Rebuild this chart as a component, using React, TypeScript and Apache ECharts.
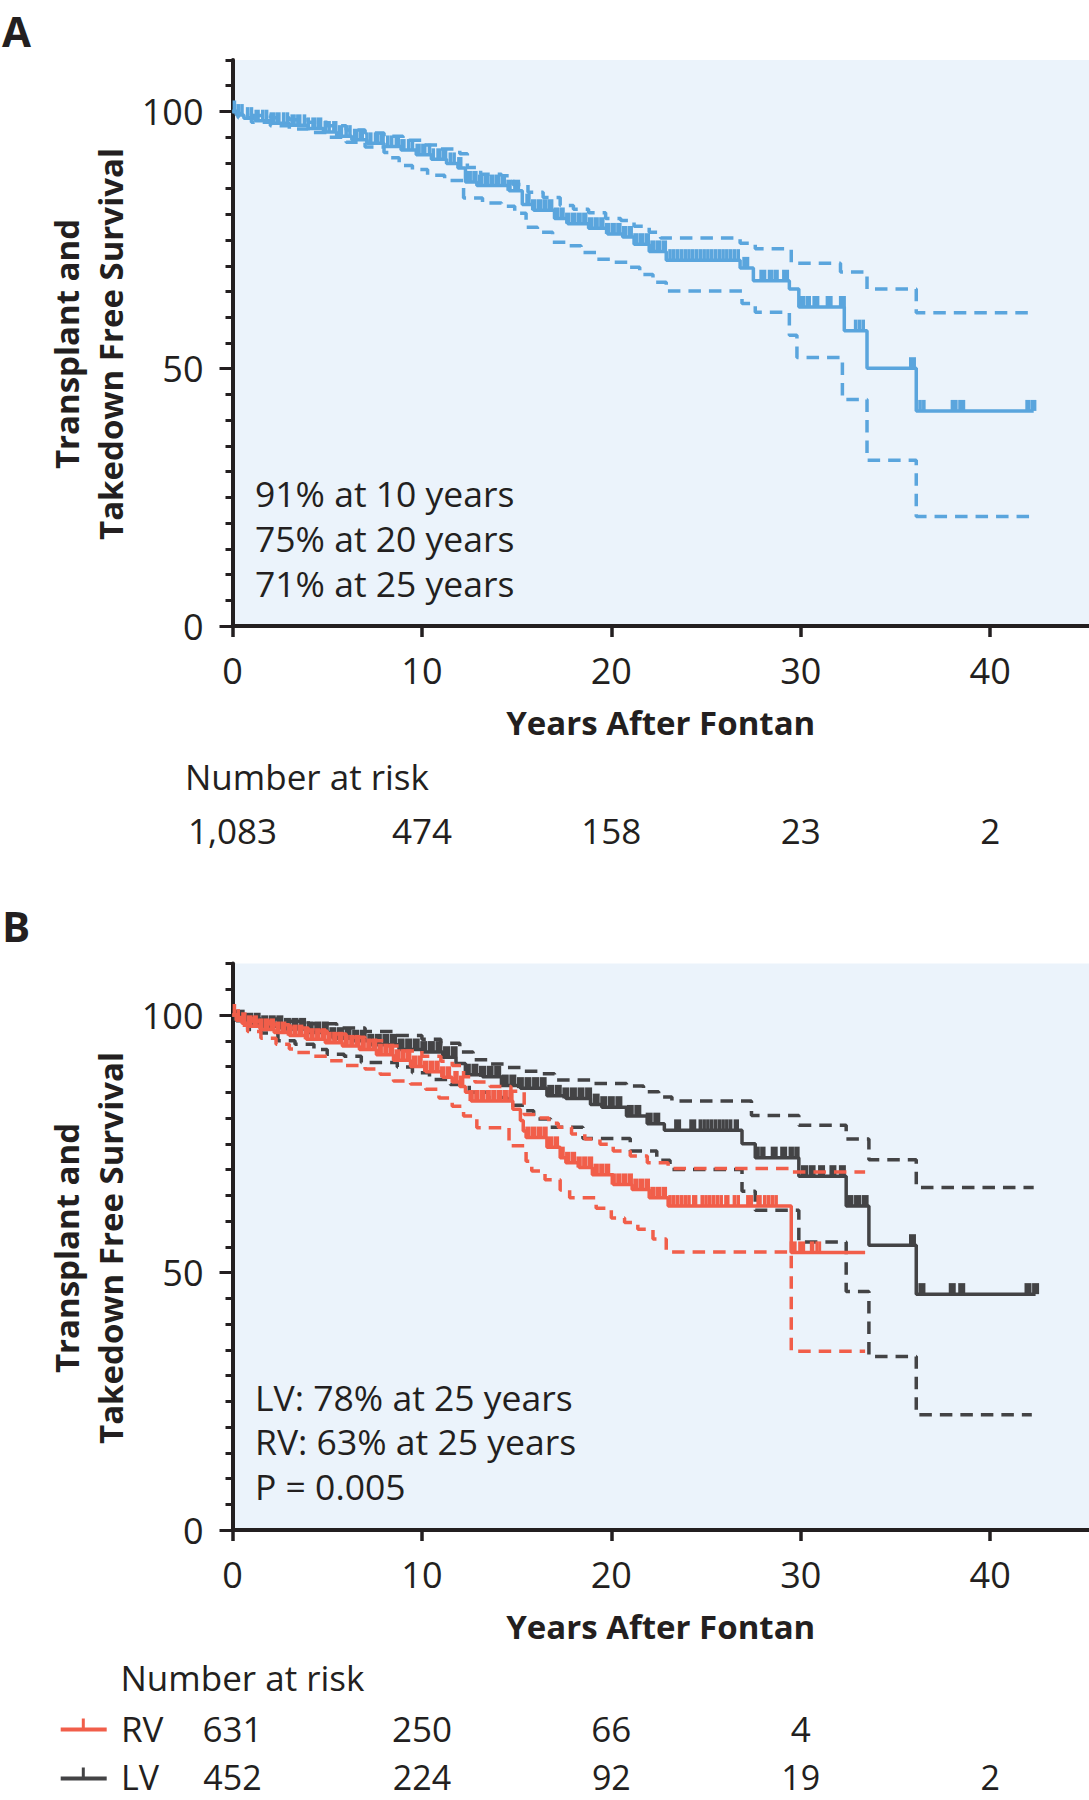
import React, { useEffect, useRef } from 'react';
import * as echarts from 'echarts';

const FONT = "'Open Sans', 'Noto Sans', sans-serif";
const INK = '#231F20';
const BG = '#EBF3FB';
const BLUE = '#5AA5DD';
const RED = '#F15E4A';
const GRAY = '#434345';

// ---------- axes ----------
const xTickYears = [0, 10, 20, 30, 40];
const yTickValues = [0, 50, 100];
const X_MAX = 45.22;
const Y_MAX = 110;

// ---------- Panel A : all patients ----------
const allMain = [
  [0, 100], [0.2, 99.3], [0.6, 98.7], [1.2, 98.2], [2.0, 97.7], [3.0, 97.3], [4.0, 96.7],
  [4.8, 96.0], [5.5, 95.2], [6.3, 94.5], [7.1, 93.8], [8.0, 93.2], [8.9, 92.5], [9.7, 91.6],
  [10.5, 90.7], [11.3, 89.9], [11.9, 89.0], [12.3, 86.3], [12.9, 85.6], [14.6, 84.6],
  [15.3, 81.9], [15.9, 80.8], [17.0, 79.2], [17.7, 78.2], [18.8, 77.3], [19.8, 76.2],
  [20.6, 75.6], [21.2, 74.2], [22.0, 72.8], [22.9, 71.1], [26.8, 69.6], [27.5, 67.1],
  [29.4, 65.5], [29.9, 62.0], [32.3, 57.4], [33.5, 50.1], [36.1, 41.8], [42.3, 41.8],
];
const allUpper = [
  [0, 100], [0.3, 99.6], [1, 99.2], [2, 98.8], [3, 98.4], [4, 97.9], [5, 97.2], [6, 96.4],
  [7, 95.8], [8, 95.2], [9, 94.4], [10, 93.5], [11, 92.7], [12, 91.8], [12.4, 89.1],
  [13.1, 87.8], [14.2, 87.5], [14.8, 85.8], [15.6, 84.3], [16.4, 83.3], [17.3, 81.7],
  [18.0, 81.0], [18.8, 80.3], [19.7, 79.2], [20.5, 78.8], [21.2, 77.7], [22.0, 76.5],
  [22.6, 75.4], [26.8, 74.4], [27.6, 73.3], [29.5, 70.5], [32.1, 68.8], [33.5, 65.5],
  [36.1, 60.9], [42.3, 60.9],
];
const allLower = [
  [0, 100], [0.3, 98.8], [1, 97.9], [2, 97.2], [3, 96.6], [4, 95.9], [5, 95.0], [6, 94.0],
  [7, 93.1], [8, 92.0], [8.3, 91.0], [8.8, 89.5], [9.5, 88.7], [10.3, 87.6], [11.2, 86.6],
  [12.2, 83.2], [13.2, 82.2], [14.2, 81.6], [14.9, 80.2], [15.5, 77.5], [16.1, 76.5],
  [16.9, 74.6], [17.6, 73.9], [18.4, 72.6], [19.2, 71.3], [20.1, 70.7], [20.9, 69.7],
  [21.5, 68.3], [22.2, 66.8], [22.9, 65.1], [26.9, 62.7], [27.6, 61.0], [29.4, 56.5],
  [29.8, 52.2], [32.2, 44.0], [33.5, 32.2], [36.1, 21.3], [42.3, 21.3],
];
const allCensor = [
  0.1, 0.3, 0.5, 0.8, 1.0, 1.3, 1.6, 1.8, 2.1, 2.4, 2.7, 2.9, 3.2, 3.5, 3.8, 4.0, 4.3, 4.6,
  4.9, 5.1, 5.4, 5.7, 6.0, 6.2, 6.5, 6.8, 7.1, 7.3, 7.6, 7.9, 8.2, 8.4, 8.7, 9.0, 9.3, 9.5,
  9.8, 10.1, 10.4, 10.6, 10.9, 11.2, 11.5, 11.7, 12.0, 12.5, 12.8, 13.1, 13.4, 13.7, 14.0,
  14.3, 14.6, 15.0, 15.6, 15.9, 16.2, 16.5, 16.8, 17.1, 17.4, 17.7, 18.0, 18.3, 18.6, 18.9,
  19.2, 19.5, 19.8, 20.1, 20.4, 20.7, 21.0, 21.3, 21.6, 21.9, 22.2, 22.5, 22.8, 23.1, 23.3,
  23.5, 23.7, 23.9, 24.1, 24.3, 24.5, 24.7, 24.9, 25.1, 25.3, 25.5, 25.7, 25.9, 26.1, 26.3,
  26.5, 26.7, 27.1, 28.0, 28.4, 28.7, 29.2, 30.1, 30.4, 30.8, 31.5, 32.2, 32.9, 33.1, 33.3,
  35.9, 36.3, 36.5, 38.1, 38.5, 42.0, 42.3,
];

// ---------- Panel B : RV vs LV ----------
const rvMain = [
  [0, 100], [0.2, 99.0], [0.5, 98.4], [0.9, 97.8], [1.5, 97.2], [2.2, 96.6], [3.0, 96.0],
  [3.9, 95.3], [4.9, 94.6], [5.8, 94.0], [6.7, 93.3], [7.6, 92.3], [8.5, 91.2], [9.4, 90.0],
  [10.2, 89.0], [11.1, 87.9], [11.6, 87.0], [12.0, 86.1], [12.3, 85.0], [12.6, 83.3],
  [14.8, 81.7], [15.2, 79.5], [15.35, 77.5], [15.5, 76.2], [16.6, 74.3], [17.3, 72.3],
  [17.6, 71.3], [18.3, 70.4], [19.0, 69.0], [20.1, 67.1], [21.1, 66.1], [22.0, 64.5],
  [23.0, 62.9], [29.5, 53.9], [33.4, 53.9],
];
const rvUpper = [
  [0, 100], [0.3, 99.5], [1, 98.8], [2, 98.1], [3, 97.5], [4, 96.9], [5, 96.3], [6, 95.7],
  [7, 95.0], [8, 94.0], [9, 93.0], [10, 92.0], [11, 91.0], [11.6, 90.2], [12.2, 88.0],
  [12.8, 87.0], [13.6, 86.1], [14.7, 85.2], [15.4, 80.7], [16.0, 80.0], [16.7, 79.0],
  [17.2, 78.2], [17.9, 76.9], [18.6, 75.9], [19.4, 74.9], [20.1, 73.6], [21.0, 72.6],
  [21.9, 71.3], [23.0, 70.2], [29.5, 69.5], [33.4, 69.5],
];
const rvLower = [
  [0, 100], [0.3, 98.0], [0.8, 96.8], [1.5, 95.5], [2.3, 94.3], [3.0, 93.4], [3.4, 92.7],
  [4.2, 92.0], [5.1, 91.1], [5.9, 90.2], [7.0, 89.5], [7.8, 88.5], [8.5, 87.2], [9.4, 86.6],
  [10.2, 85.6], [10.9, 83.9], [11.6, 82.3], [12.2, 80.4], [12.9, 78.1], [14.6, 74.6],
  [15.5, 71.6], [15.8, 69.7], [16.5, 68.0], [17.3, 66.0], [17.8, 64.5], [19.2, 62.5],
  [20.0, 60.6], [20.7, 59.7], [21.4, 58.4], [22.2, 56.5], [22.9, 54.0], [29.5, 34.7],
  [33.4, 34.7],
];
const rvCensor = [
  0.1, 0.3, 0.6, 0.9, 1.2, 1.5, 1.8, 2.1, 2.4, 2.7, 3.0, 3.3, 3.6, 3.9, 4.2, 4.5, 4.8, 5.1,
  5.4, 5.7, 6.0, 6.3, 6.6, 6.9, 7.2, 7.5, 7.8, 8.1, 8.4, 8.7, 9.0, 9.3, 9.6, 9.9, 10.2, 10.5,
  10.8, 11.1, 11.4, 11.8, 12.1, 12.6, 12.9, 13.2, 13.5, 13.8, 14.1, 14.4, 14.7, 15.6, 15.9,
  16.2, 16.5, 16.8, 17.1, 17.4, 17.7, 18.0, 18.3, 18.6, 18.9, 19.2, 19.5, 19.8, 20.1, 20.4,
  20.7, 21.0, 21.3, 21.6, 21.9, 22.2, 22.5, 22.8, 23.1, 23.3, 23.5, 23.7, 23.9, 24.1, 24.4,
  24.8, 25.0, 25.2, 25.4, 25.6, 25.8, 26.1, 26.5, 26.7, 27.3, 27.8, 28.1, 28.3, 28.5, 28.7,
  29.6, 30.05, 30.6, 30.85, 31.0,
];
const lvMain = [
  [0, 100], [0.2, 98.9], [0.6, 98.3], [1.4, 97.8], [2.6, 97.3], [3.9, 96.6], [5.3, 95.5],
  [6.3, 95.0], [7.2, 94.2], [8.8, 93.3], [10.0, 92.8], [11.1, 91.8], [11.8, 90.6],
  [12.3, 88.4], [13.2, 88.0], [14.2, 86.3], [15.2, 85.8], [16.6, 84.3], [17.6, 83.8],
  [18.9, 82.6], [19.5, 82.1], [20.8, 80.4], [21.9, 78.9], [22.8, 77.6], [26.9, 75.0],
  [27.6, 72.3], [29.9, 68.7], [32.4, 62.9], [33.6, 55.3], [36.1, 45.8], [42.4, 45.8],
];
const lvUpper = [
  [0, 100], [0.3, 99.6], [1, 99.2], [2.5, 98.8], [4, 98.3], [5.5, 97.5], [7, 96.8],
  [8.5, 96.0], [10, 95.3], [11, 94.5], [12.0, 92.8], [12.7, 91.3], [13.6, 90.5],
  [14.4, 89.8], [15.4, 89.1], [16.2, 88.6], [17.0, 87.4], [18.9, 86.7], [20.8, 86.2],
  [21.7, 85.1], [22.5, 84.1], [23.2, 83.3], [27.4, 80.5], [29.9, 78.6], [32.4, 75.9],
  [33.6, 71.9], [36.1, 66.5], [42.3, 66.5],
];
const lvLower = [
  [0, 100], [0.3, 98.3], [0.8, 97.2], [1.5, 96.5], [2.4, 95.0], [3.3, 94.3], [4.3, 93.3],
  [5.0, 92.4], [5.9, 92.0], [6.8, 90.8], [8.7, 89.9], [9.5, 88.8], [10.4, 87.5],
  [11.5, 86.5], [12.5, 85.0], [13.5, 84.0], [14.5, 82.5], [15.4, 81.4], [15.9, 79.8],
  [16.8, 78.2], [18.5, 76.0], [21.0, 73.6], [22.4, 71.8], [23.1, 70.0], [26.9, 65.8],
  [27.6, 62.1], [29.9, 55.9], [32.4, 46.3], [33.6, 33.7], [36.1, 22.4], [42.2, 22.4],
];
const lvCensor = [
  0.2, 0.5, 0.9, 1.3, 1.7, 2.1, 2.5, 2.9, 3.3, 3.7, 4.1, 4.5, 4.9, 5.3, 5.7, 6.1, 6.5, 6.9,
  7.3, 7.7, 8.1, 8.5, 8.9, 9.3, 9.7, 10.1, 10.5, 10.9, 11.3, 11.7, 12.4, 12.8, 13.2, 13.6,
  14.0, 14.4, 14.8, 15.2, 15.6, 16.0, 16.4, 16.8, 17.2, 17.6, 18.0, 18.4, 18.8, 19.2, 19.6,
  20.0, 20.4, 21.0, 21.4, 22.0, 22.4, 23.5, 24.3, 24.7, 24.9, 25.1, 25.3, 25.5, 25.7, 25.9,
  26.1, 26.3, 26.6, 27.7, 28.0, 28.6, 29.1, 29.5, 29.8, 30.2, 30.6, 31.1, 31.7, 32.2, 32.6,
  33.0, 33.4, 35.9, 36.4, 38.0, 38.5, 42.0, 42.4,
];

// ---------- numbers at risk ----------
const riskYearsAll = [0, 10, 20, 30, 40];
const riskAll = [1083, 474, 158, 23, 2];
const riskYearsRV = [0, 10, 20, 30];
const riskRV = [631, 250, 66, 4];
const riskYearsLV = [0, 10, 20, 30, 40];
const riskLV = [452, 224, 92, 19, 2];

// ---------- texts ----------
const annotationA = ['91% at 10 years', '75% at 20 years', '71% at 25 years'];
const annotationB = ['LV: 78% at 25 years', 'RV: 63% at 25 years', 'P = 0.005'];
const yTitle = ['Transplant and', 'Takedown Free Survival'];
const xTitle = 'Years After Fontan';

const LEFT = 232.5;
const PX_PER_YEAR = (1089 - LEFT) / X_MAX;

function valueAt(curve: number[][], t: number): number {
  let v = curve[0][1];
  for (let i = 0; i < curve.length; i++) {
    if (curve[i][0] <= t) v = curve[i][1];
    else break;
  }
  return v;
}

function kmLine(curve: number[][], color: string, dashed: boolean, axis: number, z: number) {
  return {
    type: 'line',
    data: curve,
    step: 'end',
    xAxisIndex: axis,
    yAxisIndex: axis * 2,
    symbol: 'none',
    showSymbol: false,
    silent: true,
    clip: false,
    z,
    lineStyle: { color, width: 3.5, type: dashed ? [12.5, 8] : 'solid', cap: 'butt', opacity: 1 },
    itemStyle: { color },
  };
}

function censorMarks(curve: number[][], times: number[], color: string, axis: number, z: number) {
  return {
    type: 'scatter',
    data: times.map((t, i) => {
      const prev = i > 0 ? t - times[i - 1] : 99;
      const next = i < times.length - 1 ? times[i + 1] - t : 99;
      const gapPx = Math.min(prev, next) * PX_PER_YEAR;
      const w = Math.max(3, Math.min(7, gapPx * 0.95));
      return { value: [t, valueAt(curve, t)], symbolSize: [w, 11] };
    }),
    xAxisIndex: axis,
    yAxisIndex: axis * 2,
    symbol: 'rect',
    symbolOffset: [0, -5.5],
    silent: true,
    clip: false,
    z,
    itemStyle: { color, opacity: 1 },
  };
}

function riskRow(years: number[], counts: number[], rowValue: number, xi: number, yi: number, size: number) {
  return {
    type: 'scatter',
    data: years.map((y, i) => [y, rowValue, counts[i]]),
    xAxisIndex: xi,
    yAxisIndex: yi,
    symbolSize: 1,
    silent: true,
    clip: false,
    itemStyle: { color: 'transparent', opacity: 1 },
    label: {
      show: true,
      position: 'inside',
      formatter: (p: any) => Number(p.value[2]).toLocaleString('en-US'),
      fontFamily: FONT,
      fontSize: size,
      color: INK,
      opacity: 1,
      lineHeight: 30,
      textBorderWidth: 0,
    },
  };
}

function plotAxes(gridIndex: number) {
  const x = {
    type: 'value',
    gridIndex,
    position: 'bottom',
    min: 0,
    max: X_MAX,
    interval: 10,
    axisLine: { show: true, onZero: false, lineStyle: { color: INK, width: 4 } },
    axisTick: { show: true, length: 11, customValues: xTickYears, lineStyle: { color: INK, width: 3.5 } },
    axisLabel: {
      show: true,
      customValues: xTickYears,
      margin: 26,
      fontSize: 36,
      fontFamily: FONT,
      color: INK,
      formatter: (v: number) => (v % 10 === 0 ? String(v) : ''),
    },
    splitLine: { show: false },
  };
  const yMinor = {
    type: 'value',
    gridIndex,
    position: 'left',
    min: 0,
    max: Y_MAX,
    interval: 5,
    axisLine: { show: true, onZero: false, lineStyle: { color: INK, width: 4 } },
    axisTick: { show: true, length: 7, lineStyle: { color: INK, width: 3 } },
    axisLabel: { show: false },
    splitLine: { show: false },
  };
  const yMajor = {
    type: 'value',
    gridIndex,
    position: 'left',
    offset: 0,
    min: 0,
    max: Y_MAX,
    interval: 50,
    axisLine: { show: false, onZero: false },
    axisTick: { show: true, length: 13, customValues: yTickValues, lineStyle: { color: INK, width: 3 } },
    axisLabel: {
      show: true,
      customValues: yTickValues,
      margin: 29,
      fontSize: 36,
      fontFamily: FONT,
      color: INK,
      formatter: (v: number) => (v % 50 === 0 && v <= 100 ? String(v) : ''),
    },
    splitLine: { show: false },
  };
  return { x, yMinor, yMajor };
}

function hiddenAxes(gridIndex: number) {
  return {
    x: { type: 'value', gridIndex, min: 0, max: X_MAX, show: false },
    y: { type: 'value', gridIndex, min: 0, max: 1, show: false },
  };
}

function txt(text: string, x: number, y: number, size: number, opts: any = {}) {
  return {
    type: 'text',
    x,
    y,
    rotation: opts.rotation || 0,
    silent: true,
    style: {
      text,
      fontSize: size,
      fontFamily: FONT,
      fontWeight: opts.bold ? 'bold' : 'normal',
      fill: INK,
      align: opts.align || 'left',
      verticalAlign: 'middle',
      lineHeight: opts.lineHeight || undefined,
    },
  };
}

export default function App() {
  const ref = useRef<HTMLDivElement>(null);

  useEffect(() => {
    if (!ref.current) return;
    const chart = echarts.init(ref.current, null, { renderer: 'svg' });

    const A = plotAxes(0);
    const B = plotAxes(1);
    const RA = hiddenAxes(2);
    const RB = hiddenAxes(3);

    const xCenter = (LEFT + 1089) / 2;
    const rvRowY = 1728;
    const lvRowY = 1777;

    const graphic: any[] = [
      txt('A', 2, 30, 42, { bold: true, lineHeight: 40 }),
      txt('B', 2, 925, 42, { bold: true, lineHeight: 40 }),
      txt(yTitle[0], 66, 344, 33, { bold: true, rotation: Math.PI / 2, align: 'center' }),
      txt(yTitle[1], 110, 344, 33, { bold: true, rotation: Math.PI / 2, align: 'center' }),
      txt(yTitle[0], 66, 1248, 33, { bold: true, rotation: Math.PI / 2, align: 'center' }),
      txt(yTitle[1], 110, 1248, 33, { bold: true, rotation: Math.PI / 2, align: 'center' }),
      txt(xTitle, xCenter, 722, 33, { bold: true, align: 'center' }),
      txt(xTitle, xCenter, 1626, 33, { bold: true, align: 'center' }),
      txt('Number at risk', 185, 776, 35),
      txt('Number at risk', 120.5, 1677, 35),
      txt('RV', 121, rvRowY, 35, { lineHeight: 30 }),
      txt('LV', 121, lvRowY, 34, { lineHeight: 30 }),
      ...annotationA.map((s, i) => txt(s, 255, 493 + i * 45, 35.5)),
      ...annotationB.map((s, i) => txt(s, 255, 1396.5 + i * 44.8, 35.5)),
      {
        type: 'line', silent: true,
        shape: { x1: 60.7, y1: rvRowY + 1.5, x2: 106.7, y2: rvRowY + 1.5 },
        style: { stroke: RED, lineWidth: 4 },
      },
      {
        type: 'line', silent: true,
        shape: { x1: 83.3, y1: rvRowY - 9.5, x2: 83.3, y2: rvRowY + 1.5 },
        style: { stroke: RED, lineWidth: 3 },
      },
      {
        type: 'line', silent: true,
        shape: { x1: 60.7, y1: lvRowY + 1.5, x2: 106.7, y2: lvRowY + 1.5 },
        style: { stroke: GRAY, lineWidth: 4 },
      },
      {
        type: 'line', silent: true,
        shape: { x1: 83.3, y1: lvRowY - 9.5, x2: 83.3, y2: lvRowY + 1.5 },
        style: { stroke: GRAY, lineWidth: 3 },
      },
    ];

    const gridBase = { left: LEFT, right: 0, containLabel: false, outerBoundsMode: 'none' };

    const option: any = {
      animation: false,
      backgroundColor: '#FFFFFF',
      grid: [
        { ...gridBase, top: 60, height: 566, show: true, backgroundColor: BG, borderWidth: 0 },
        { ...gridBase, top: 963.5, height: 566.5, show: true, backgroundColor: BG, borderWidth: 0 },
        { ...gridBase, top: 820, height: 20 },
        { ...gridBase, top: rvRowY, height: lvRowY - rvRowY },
      ],
      xAxis: [A.x, B.x, RA.x, RB.x],
      yAxis: [A.yMinor, A.yMajor, B.yMinor, B.yMajor, RA.y, RB.y],
      series: [
        kmLine(allUpper, BLUE, true, 0, 2),
        kmLine(allLower, BLUE, true, 0, 2),
        kmLine(allMain, BLUE, false, 0, 3),
        censorMarks(allMain, allCensor, BLUE, 0, 3),

        kmLine(lvUpper, GRAY, true, 1, 2),
        kmLine(lvLower, GRAY, true, 1, 2),
        kmLine(lvMain, GRAY, false, 1, 3),
        censorMarks(lvMain, lvCensor, GRAY, 1, 3),
        kmLine(rvUpper, RED, true, 1, 4),
        kmLine(rvLower, RED, true, 1, 4),
        kmLine(rvMain, RED, false, 1, 5),
        censorMarks(rvMain, rvCensor, RED, 1, 5),

        riskRow(riskYearsAll, riskAll, 0.5, 2, 4, 35),
        riskRow(riskYearsRV, riskRV, 1, 3, 5, 35),
        riskRow(riskYearsLV, riskLV, 0, 3, 5, 34),
      ],
      graphic,
    };

    chart.setOption(option);
    return () => chart.dispose();
  }, []);

  return (
    <div
      ref={ref}
      style={{ position: 'absolute', left: 0, top: 0, width: 1089, height: 1800, background: '#fff' }}
    />
  );
}
